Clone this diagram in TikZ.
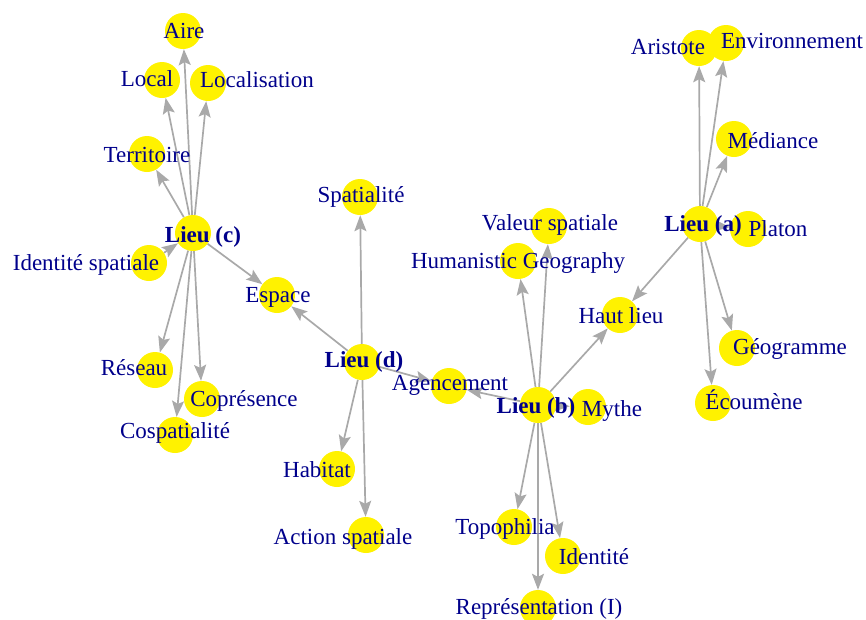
\documentclass[tikz,border=0pt]{standalone}
\usepackage{fontspec}
\setmainfont{Liberation Serif}
\usetikzlibrary{arrows.meta}
\pgfdeclarelayer{bg}
\pgfsetlayers{bg,main}
\definecolor{vblue}{HTML}{00008B}
\definecolor{egray}{HTML}{A9A9A9}
\tikzset{
  vtx/.style={circle,fill=yellow,draw=none,minimum size=36pt,inner sep=0pt},
  lab/.style={anchor=base,text=vblue,inner sep=0pt,font=\fontsize{23}{27}\selectfont},
  hub/.style={lab,font=\fontsize{23}{27}\selectfont\bfseries},
  arr/.style={draw=egray,line width=1.7pt,-{Stealth[length=16pt,width=12pt,inset=3pt]}}
}
\begin{document}
\begin{tikzpicture}[x=1pt,y=-1pt]
\useasboundingbox (0,0) rectangle (866,619);
% vertices
\node[vtx] (c) at (193,233) {};
\node[vtx] (aire) at (183,31) {};
\node[vtx] (local) at (162,80) {};
\node[vtx] (locs) at (208,83) {};
\node[vtx] (terr) at (147,154) {};
\node[vtx] (idsp) at (149,263) {};
\node[vtx] (esp) at (277,295) {};
\node[vtx] (res) at (155,370) {};
\node[vtx] (copr) at (202,399) {};
\node[vtx] (cosp) at (175,435) {};
\node[vtx] (d) at (362,362) {};
\node[vtx] (spat) at (360,197) {};
\node[vtx] (agen) at (449,386) {};
\node[vtx] (hab) at (337,469) {};
\node[vtx] (act) at (366,535) {};
\node[vtx] (b) at (538,405) {};
\node[vtx] (val) at (549,226) {};
\node[vtx] (hum) at (518,261) {};
\node[vtx] (haut) at (620,315) {};
\node[vtx] (myth) at (588,407) {};
\node[vtx] (topo) at (514,527) {};
\node[vtx] (ident) at (563,556) {};
\node[vtx] (repr) at (538,608) {};
\node[vtx] (a) at (700,224) {};
\node[vtx] (plat) at (748,229) {};
\node[vtx] (aris) at (699,48) {};
\node[vtx] (env) at (726,43) {};
\node[vtx] (med) at (734,139) {};
\node[vtx] (geog) at (737,348) {};
\node[vtx] (ecou) at (713,403) {};
% edges
\begin{pgfonlayer}{bg}
\foreach \t in {aire,local,locs,terr,esp,res,copr,cosp} \draw[arr] (c) -- (\t);
\draw[arr] (idsp) -- (c);
\foreach \t in {spat,esp,agen,hab,act} \draw[arr] (d) -- (\t);
\foreach \t in {hum,val,haut,agen,myth,topo,ident,repr} \draw[arr] (b) -- (\t);
\foreach \t in {aris,env,med,plat,haut,geog,ecou} \draw[arr] (a) -- (\t);
\end{pgfonlayer}
% labels
\node[hub] (c-l) at (203,242) {Lieu (c)};
\node[lab] (aire-l) at (184,38) {Aire};
\node[lab] (local-l) at (147,86) {Local};
\node[lab] (locs-l) at (257,87) {Localisation};
\node[lab] (terr-l) at (147,162) {Territoire};
\node[lab] (idsp-l) at (86,270) {Identité spatiale};
\node[lab] (esp-l) at (278,302) {Espace};
\node[lab] (res-l) at (134,375) {Réseau};
\node[lab] (copr-l) at (244,406) {Coprésence};
\node[lab] (cosp-l) at (175,438) {Cospatialité};
\node[hub] (d-l) at (364,367) {Lieu (d)};
\node[lab] (spat-l) at (361,202) {Spatialité};
\node[lab] (agen-l) at (450,390) {Agencement};
\node[lab] (hab-l) at (317,477) {Habitat};
\node[lab] (act-l) at (343,544) {Action spatiale};
\node[hub] (b-l) at (536,413) {Lieu (b)};
\node[lab] (val-l) at (550,230) {Valeur spatiale};
\node[lab] (hum-l) at (518,268) {Humanistic Geography};
\node[lab] (haut-l) at (621,323) {Haut lieu};
\node[lab] (myth-l) at (612,416) {Mythe};
\node[lab] (topo-l) at (505,534) {Topophilia};
\node[lab] (ident-l) at (594,564) {Identité};
\node[lab] (repr-l) at (539,614) {Représentation (I)};
\node[hub] (a-l) at (703,231) {Lieu (a)};
\node[lab] (plat-l) at (778,236) {Platon};
\node[lab] (aris-l) at (668,54) {Aristote};
\node[lab] (env-l) at (792,48) {Environnement};
\node[lab] (med-l) at (773,148) {Médiance};
\node[lab] (geog-l) at (790,354) {Géogramme};
\node[lab] (ecou-l) at (754,409) {Écoumène};
\end{tikzpicture}
\end{document}
